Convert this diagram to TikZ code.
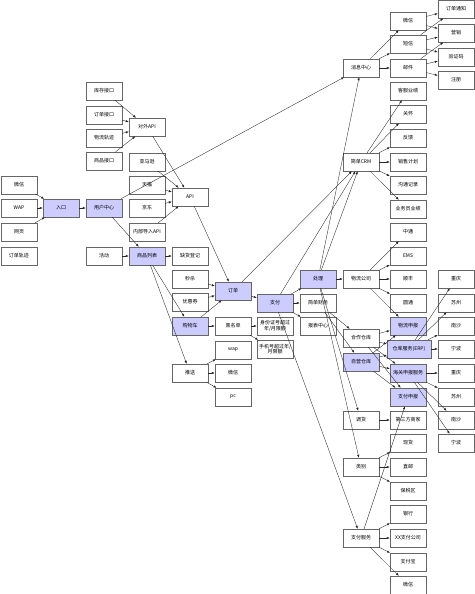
\documentclass[tikz,border=0pt]{standalone}
\usepackage{fontspec}
\setmainfont{Noto Sans CJK SC}
\usetikzlibrary{arrows.meta}

\begin{document}
\begin{tikzpicture}[x=1pt,y=-1pt,
	box/.style={draw=black!60,fill=white,minimum width=36pt,minimum height=18pt,inner sep=0.5pt,align=center,font=\fontsize{5}{5.5}\selectfont},
	hl/.style={box,fill=blue!20},
	line/.style={-{Latex[length=3pt,width=2.2pt]},black!85,line width=0.35pt}]
	\useasboundingbox (0,0) rectangle (474,594);

	% entry column
	\node[box] (wx) at (19,185) {微信};
	\node[box] (wap) at (19,208) {WAP};
	\node[box] (web) at (19,232) {网页};
	\node[box] (track) at (19,256) {订单轨迹};
	\node[hl] (entry) at (61,208) {入口};

	\node[box] (stock) at (104,91) {库存接口};
	\node[box] (orderif) at (104,115) {订单接口};
	\node[box] (logtrack) at (104,138) {物流轨迹};
	\node[box] (goodsif) at (104,161) {商品接口};
	\node[hl] (user) at (104,208) {用户中心};
	\node[box] (event) at (104,256) {活动};

	\node[box] (openapi) at (147,127) {对外API};
	\node[box] (amazon) at (147,162) {亚马逊};
	\node[box] (tmall) at (147,185) {天猫};
	\node[box] (jd) at (147,208) {京东};
	\node[box] (inner) at (147,232) {内部导入API};
	\node[hl] (goods) at (147,256) {商品列表};

	\node[box] (api) at (190,197) {API};
	\node[box] (lack) at (190,256) {缺货登记};
	\node[box] (flash) at (190,279) {秒杀};
	\node[box] (coupon) at (190,302) {优惠券};
	\node[hl] (cart) at (190,326) {购物车};
	\node[box] (push) at (190,373) {推送};

	\node[hl] (order) at (233,291) {订单};
	\node[box] (black) at (233,326) {黑名单};
	\node[box] (pwap) at (233,350) {wap};
	\node[box] (pwx) at (233,373) {微信};
	\node[box] (ppc) at (233,397) {pc};

	\node[hl] (pay) at (275,303) {支付};
	\node[box] (idcard) at (275,326) {身份证号超过\\年/月限额};
	\node[box] (phone) at (275,349) {手机号超过年/\\月限额};

	\node[hl] (deal) at (318,279) {处理};
	\node[box] (fin) at (318,303) {简单财务};
	\node[box] (report) at (318,326) {报表中心};

	% middle column
	\node[box] (msg) at (361,68) {消息中心};
	\node[box] (crm) at (361,162) {简单CRM};
	\node[box] (express) at (361,279) {物流公司};
	\node[box] (partner) at (361,338) {合作仓库};
	\node[hl] (own) at (361,362) {自营仓库};
	\node[box] (transfer) at (361,420) {调货};
	\node[box] (kind) at (361,467) {类别};
	\node[box] (payserv) at (361,538) {支付服务};

	% right columns
	\node[box] (mwx) at (408,21) {微信};
	\node[box] (sms) at (408,44) {短信};
	\node[box] (mail) at (408,68) {邮件};
	\node[box] (kefu) at (408,91) {客服业绩};
	\node[box] (care) at (408,114) {关怀};
	\node[box] (feedback) at (408,138) {反馈};
	\node[box] (plan) at (408,162) {销售计划};
	\node[box] (talk) at (408,185) {沟通记录};
	\node[box] (staff) at (408,209) {业务员业绩};
	\node[box] (zto) at (408,232) {中通};
	\node[box] (ems) at (408,256) {EMS};
	\node[box] (sf) at (408,279) {顺丰};
	\node[box] (yto) at (408,303) {圆通};
	\node[hl] (logdecl) at (408,326) {物流申报};
	\node[hl,minimum width=44pt] (erp) at (409,349) {仓库服务(ERP)};
	\node[hl] (customs) at (408,373) {海关申报服务};
	\node[hl] (paydecl) at (408,397) {支付申报};
	\node[box] (third) at (408,420) {第三方商家};
	\node[box] (spot) at (408,443) {现货};
	\node[box] (direct) at (408,467) {直邮};
	\node[box] (bonded) at (408,491) {保税区};
	\node[box] (bank) at (408,514) {银行};
	\node[box] (xxpay) at (408,538) {XX支付公司};
	\node[box] (alipay) at (408,562) {支付宝};
	\node[box] (wxpay) at (408,585) {微信};

	\node[box] (notice) at (456,9) {订单通知};
	\node[box] (market) at (456,33) {营销};
	\node[box] (vcode) at (456,57) {验证码};
	\node[box] (reg) at (456,80) {注册};
	\node[box] (cq1) at (456,279) {重庆};
	\node[box] (sz1) at (456,303) {苏州};
	\node[box] (ns1) at (456,326) {南沙};
	\node[box] (nb1) at (456,349) {宁波};
	\node[box] (cq2) at (456,373) {重庆};
	\node[box] (sz2) at (456,397) {苏州};
	\node[box] (ns2) at (456,420) {南沙};
	\node[box] (nb2) at (456,443) {宁波};

	% edges
	\draw[line] (wx) -- (entry);
	\draw[line] (wap) -- (entry);
	\draw[line] (web) -- (entry);
	\draw[line] (entry) -- (user);
	\draw[line] (user) -- (msg);
	\draw[line] (user) -- (goods);
	\draw[line] (stock) -- (openapi);
	\draw[line] (orderif) -- (openapi);
	\draw[line] (logtrack) -- (openapi);
	\draw[line] (goodsif) -- (openapi);
	\draw[line] (openapi) -- (api);
	\draw[line] (amazon) -- (api);
	\draw[line] (tmall) -- (api);
	\draw[line] (jd) -- (api);
	\draw[line] (inner) -- (api);
	\draw[line] (api) -- (order);
	\draw[line] (event) -- (goods);
	\draw[line] (goods) -- (lack);
	\draw[line] (goods) -- (cart);
	\draw[line] (goods) -- (push);
	\draw[line] (flash) -- (order);
	\draw[line] (coupon) -- (order);
	\draw[line] (cart) -- (order);
	\draw[line] (cart) -- (black);
	\draw[line] (black) -- (idcard);
	\draw[line] (black) -- (phone);
	\draw[line] (push) -- (pwap);
	\draw[line] (push) -- (pwx);
	\draw[line] (push) -- (ppc);
	\draw[line] (order) -- (pay);
	\draw[line] (order) -- (crm);
	\draw[line] (pay) -- (crm);
	\draw[line] (pay) -- (deal);
	\draw[line] (pay) -- (fin);
	\draw[line] (pay) -- (report);
	\draw[line] (pay) -- (payserv);
	\draw[line] (deal) -- (crm);
	\draw[line] (deal) -- (msg);
	\draw[line] (deal) -- (express);
	\draw[line] (deal) -- (transfer);
	\draw[line] (deal) -- (kind);
	\draw[line] (fin) -- (partner);
	\draw[line] (fin) -- (own);

	\draw[line] (msg) -- (mwx);
	\draw[line] (msg) -- (sms);
	\draw[line] (msg) -- (mail);
	\draw[line] (mwx) -- (notice);
	\draw[line] (mwx) -- (market);
	\draw[line] (sms) -- (notice);
	\draw[line] (sms) -- (market);
	\draw[line] (sms) -- (vcode);
	\draw[line] (mail) -- (market);
	\draw[line] (mail) -- (vcode);
	\draw[line] (mail) -- (reg);

	\draw[line] (crm) -- (kefu);
	\draw[line] (crm) -- (care);
	\draw[line] (crm) -- (feedback);
	\draw[line] (crm) -- (plan);
	\draw[line] (crm) -- (talk);
	\draw[line] (crm) -- (staff);

	\draw[line] (express) -- (zto);
	\draw[line] (express) -- (ems);
	\draw[line] (express) -- (sf);
	\draw[line] (express) -- (yto);
	\draw[line] (express) -- (logdecl);

	\draw[line] (partner) -- (logdecl);
	\draw[line] (partner) -- (erp);
	\draw[line] (partner) -- (customs);
	\draw[line] (partner) -- (paydecl);
	\draw[line] (own) -- (logdecl);
	\draw[line] (own) -- (erp);
	\draw[line] (own) -- (customs);
	\draw[line] (own) -- (paydecl);

	\draw[line] (erp) -- (cq1);
	\draw[line] (erp) -- (sz1);
	\draw[line] (erp) -- (ns1);
	\draw[line] (erp) -- (nb1);
	\draw[line] (customs) -- (cq2);
	\draw[line] (customs) -- (sz2);
	\draw[line] (customs) -- (ns2);
	\draw[line] (customs) -- (nb2);

	\draw[line] (transfer) -- (third);
	\draw[line] (kind) -- (spot);
	\draw[line] (kind) -- (direct);
	\draw[line] (kind) -- (bonded);
	\draw[line] (payserv) -- (paydecl);
	\draw[line] (payserv) -- (bank);
	\draw[line] (payserv) -- (xxpay);
	\draw[line] (payserv) -- (alipay);
	\draw[line] (payserv) -- (wxpay);
\end{tikzpicture}
\end{document}
